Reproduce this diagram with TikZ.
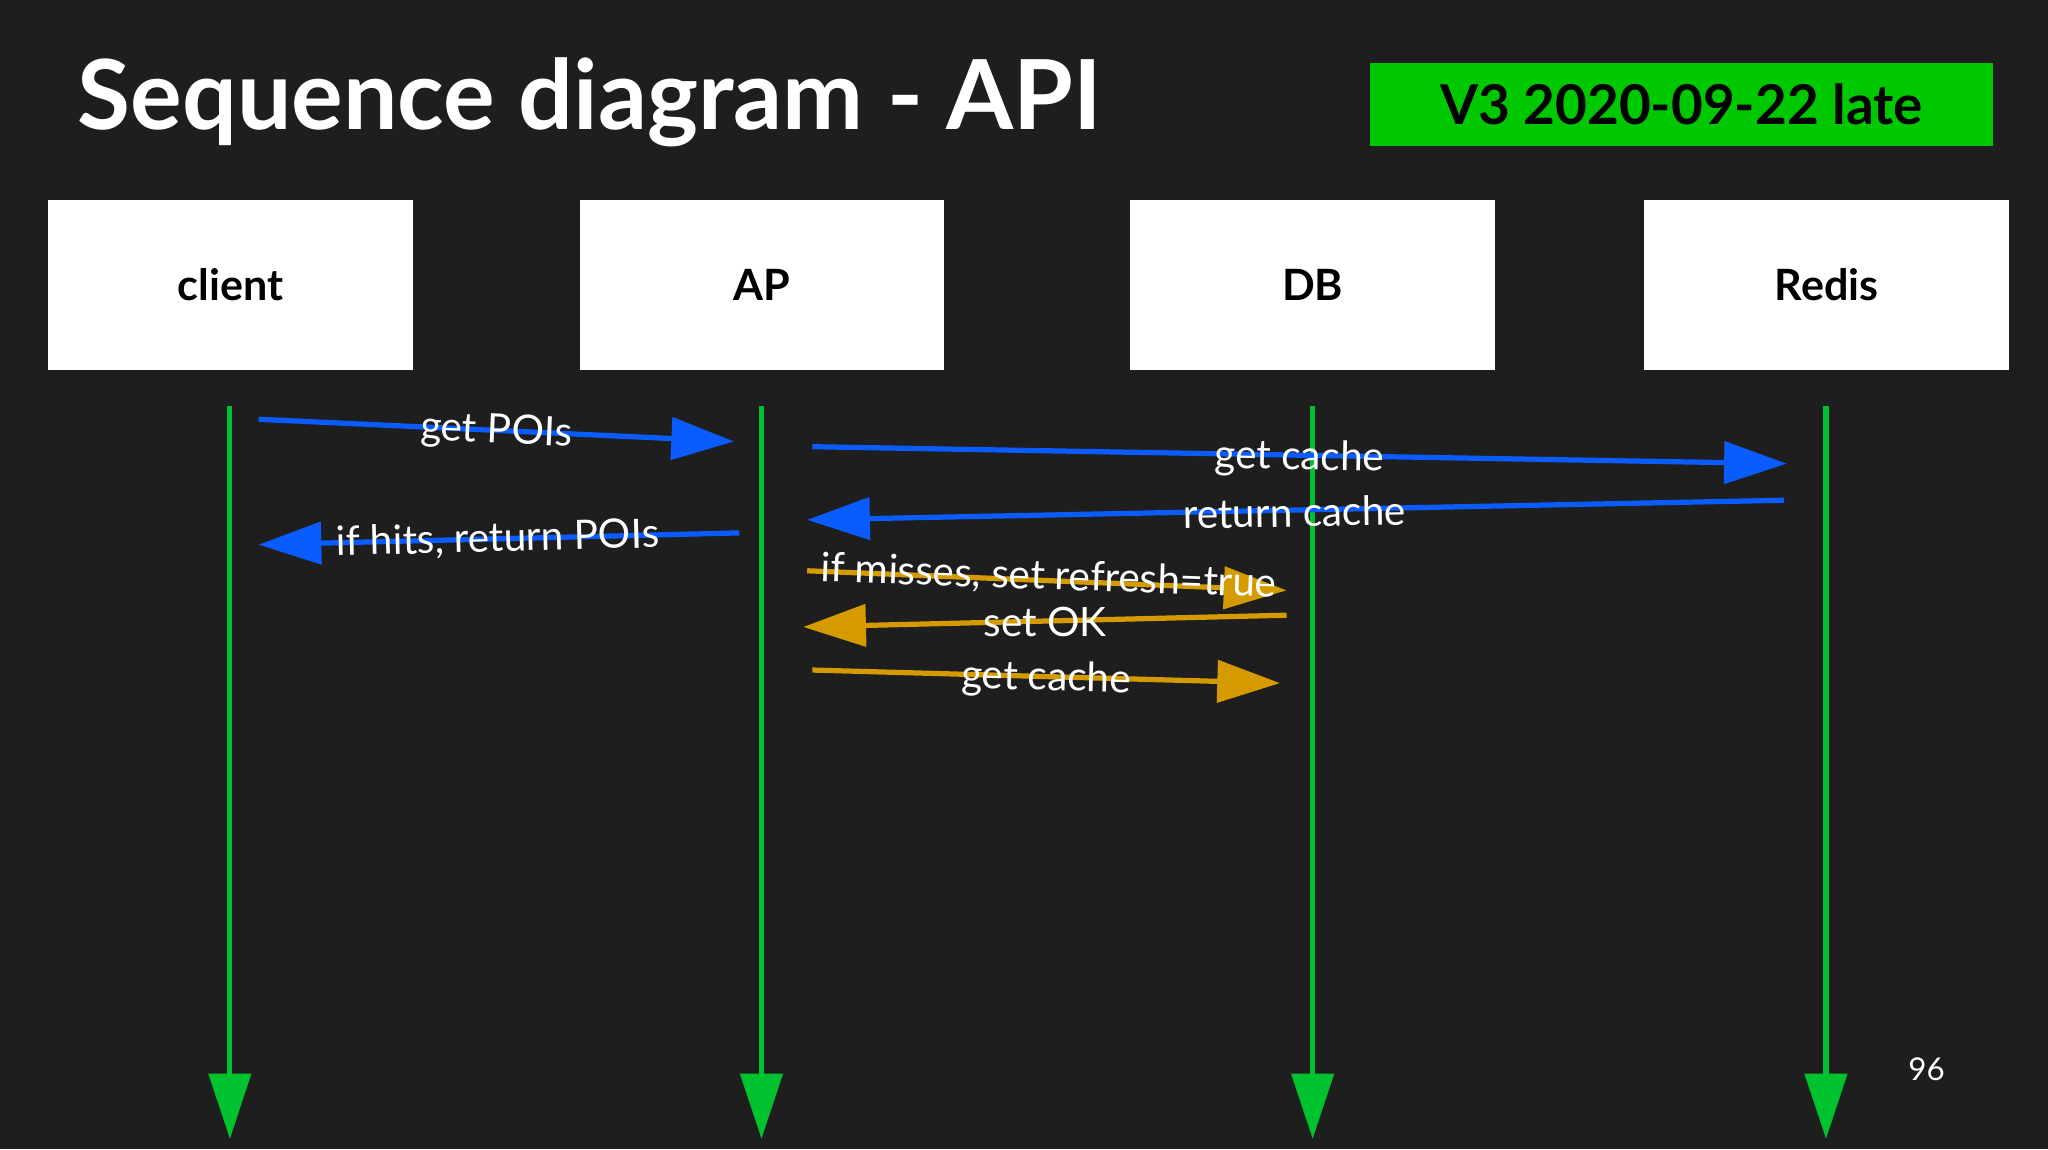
\documentclass[tikz,border=0pt]{standalone}
\usepackage{fontspec}
\setmainfont{Lato}
\usetikzlibrary{arrows.meta}
\definecolor{bg}{HTML}{1E1E1E}
\definecolor{lgreen}{HTML}{00C22E}
\definecolor{tagg}{HTML}{00C800}
\definecolor{ablue}{HTML}{0A5CFF}
\definecolor{aor}{HTML}{D49A00}
\begin{document}
\begin{tikzpicture}[x=1pt,y=-1pt,
  actor/.style={draw=none,fill=white,minimum width=279pt,minimum height=130pt,font=\fontsize{33}{38}\selectfont\bfseries,text=black},
  life/.style={draw=lgreen,line width=4pt,-{Triangle[length=50pt,width=32pt]}},
  bmsg/.style={draw=ablue,line width=4pt,-{Triangle[length=48pt,width=32pt]}},
  omsg/.style={draw=aor,line width=4pt,-{Triangle[length=48pt,width=32pt]}},
  lbl/.style={text=white,font=\fontsize{31}{34}\selectfont,inner sep=0pt}]
\fill[bg] (0,0) rectangle (1568,880);
\useasboundingbox (0,0) rectangle (1568,880);
\node[anchor=west,text=white,font=\fontsize{74}{80}\selectfont\bfseries] (title) at (56,78) {Sequence diagram - API};
\node[fill=tagg,minimum width=477pt,minimum height=64pt,font=\fontsize{42}{46}\selectfont\bfseries,text=black] (tag) at (1287.5,80) {V3 2020-09-22 late};
\node[actor] (client) at (176.5,218) {client};
\node[actor] (ap) at (583.5,218) {AP};
\node[actor] (db) at (1005,218) {DB};
\node[actor] (redis) at (1398.5,218) {Redis};
\foreach \n/\x in {c/176,a/583,d/1005,r/1398}{
  \coordinate (\n top) at (\x,311);
  \coordinate (\n bot) at (\x,872);
  \draw[life] (\n top) -- (\n bot);
}
\coordinate (m1s) at (198,321); \coordinate (m1e) at (562,338);
\coordinate (m2s) at (622,342); \coordinate (m2e) at (1368,355);
\coordinate (m3s) at (1366,383); \coordinate (m3e) at (618,398);
\coordinate (m4s) at (566,408); \coordinate (m4e) at (198,417);
\coordinate (m5s) at (618,437); \coordinate (m5e) at (985,452);
\coordinate (m6s) at (985,471); \coordinate (m6e) at (615,480);
\coordinate (m7s) at (622,513); \coordinate (m7e) at (980,523);
\draw[bmsg] (m1s) -- (m1e);
\draw[bmsg] (m2s) -- (m2e);
\draw[bmsg] (m3s) -- (m3e);
\draw[bmsg] (m4s) -- (m4e);
\draw[omsg] (m5s) -- (m5e);
\draw[omsg] (m6s) -- (m6e);
\draw[omsg] (m7s) -- (m7e);
\node[lbl,rotate=-2.5] (l1) at (380,331) {get POIs};
\node[lbl,rotate=-1] (l2) at (995,351) {get cache};
\node[lbl,rotate=1] (l3) at (991,392) {return cache};
\node[lbl,rotate=1.5] (l4) at (381,413) {if hits, return POIs};
\node[lbl,rotate=-2] (l5) at (803,442) {if misses, set refresh=true};
\node[lbl] (l6) at (800,476) {set OK};
\node[lbl,rotate=-1.5] (l7) at (801,520) {get cache};
\node[text=white,font=\fontsize{24}{28}\selectfont] (pg) at (1475,819) {96};
\end{tikzpicture}
\end{document}
